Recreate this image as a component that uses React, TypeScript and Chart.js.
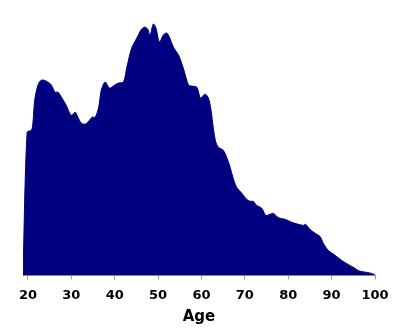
import React, { useEffect, useRef } from "react";
import { Chart, registerables } from "chart.js";

Chart.register(...registerables);

const ages = [
  18.85, 19.8, 20.8, 21.15, 21.55, 22.3, 23.1, 24.2, 25.4, 26.2, 26.9, 27.7, 28.8, 29.6, 30.1,
  30.9, 31.5, 32.3, 33.1, 33.8, 34.8, 35.5, 36.3, 36.9, 37.8, 38.8, 40.0, 40.8, 42.0, 42.8,
  43.9, 45.1, 46.2, 47.0, 47.7, 48.1, 48.9, 49.5, 50.3, 51.2, 52.0, 52.7, 53.5, 54.7, 55.8,
  57.0, 57.7, 58.9, 59.8, 60.8, 61.6, 62.2, 62.7, 63.3, 63.9, 65.0, 65.8, 66.6, 67.3, 68.1,
  69.3, 70.4, 71.2, 71.9, 72.7, 73.9, 74.8, 75.8, 76.6, 77.3, 78.1, 79.3, 80.8, 82.3, 83.5,
  84.0, 85.0, 86.2, 87.3, 88.1, 89.2, 90.8, 92.3, 93.8, 95.4, 96.3, 98.1, 99.2, 100.0,
];

const counts = [
  0, 143, 145, 153, 175, 190, 195, 194, 190, 183, 183, 178, 170, 162, 160,
  163, 158, 152, 151, 153, 158, 158, 168, 185, 193, 187, 190, 192, 193, 208,
  227, 237, 246, 248, 245, 239, 251, 247, 233, 240, 242, 237, 228, 220, 207,
  190, 189, 188, 177, 181, 177, 165, 148, 133, 128, 125, 118, 108, 97, 88,
  82, 76, 74, 74, 70, 67, 60, 61, 62, 59, 57, 56, 53, 51, 50,
  51, 46, 42, 39, 32, 25, 20, 15, 11, 7, 4.5, 3, 2, 0.5,
];

const tickValues = [20, 30, 40, 50, 60, 70, 80, 90, 100];

export default function App() {
  const ref = useRef<HTMLCanvasElement | null>(null);

  useEffect(() => {
    if (!ref.current) return;
    const chart = new Chart(ref.current, {
      type: "line",
      data: {
        datasets: [
          {
            data: ages.map((a, i) => ({ x: a, y: counts[i] })),
            borderColor: "rgb(0,0,128)",
            backgroundColor: "rgb(0,0,128)",
            borderWidth: 1,
            fill: "origin",
            pointRadius: 0,
            tension: 0.3,
          },
        ],
      },
      options: {
        animation: false,
        responsive: true,
        maintainAspectRatio: false,
        layout: { padding: { left: 23, right: 25, top: 15, bottom: 1 } },
        plugins: { legend: { display: false }, tooltip: { enabled: false } },
        scales: {
          x: {
            type: "linear",
            min: 18.85,
            max: 100,
            afterBuildTicks: (axis: any) => {
              axis.ticks = tickValues.map((v) => ({ value: v }));
            },
            grid: {
              drawOnChartArea: false,
              drawTicks: true,
              tickLength: 4,
              color: "#999999",
            },
            border: { display: true, color: "#999999" },
            ticks: {
              padding: 8,
              maxRotation: 0,
              autoSkip: false,
              color: "#000000",
              font: { family: "DejaVu Sans", size: 13, weight: "bold" },
              callback: (v: any) => String(v),
            },
            title: {
              display: true,
              text: "Age",
              color: "#000000",
              padding: { top: -3, bottom: 4 },
              font: { family: "DejaVu Sans", size: 15, weight: "bold" },
            },
          },
          y: {
            display: false,
            min: 0,
            max: 260,
          },
        },
      },
    });
    return () => chart.destroy();
  }, []);

  return (
    <div style={{ position: "fixed", left: 0, top: 0, width: 400, height: 331, background: "#fff" }}>
      <canvas ref={ref} />
    </div>
  );
}
